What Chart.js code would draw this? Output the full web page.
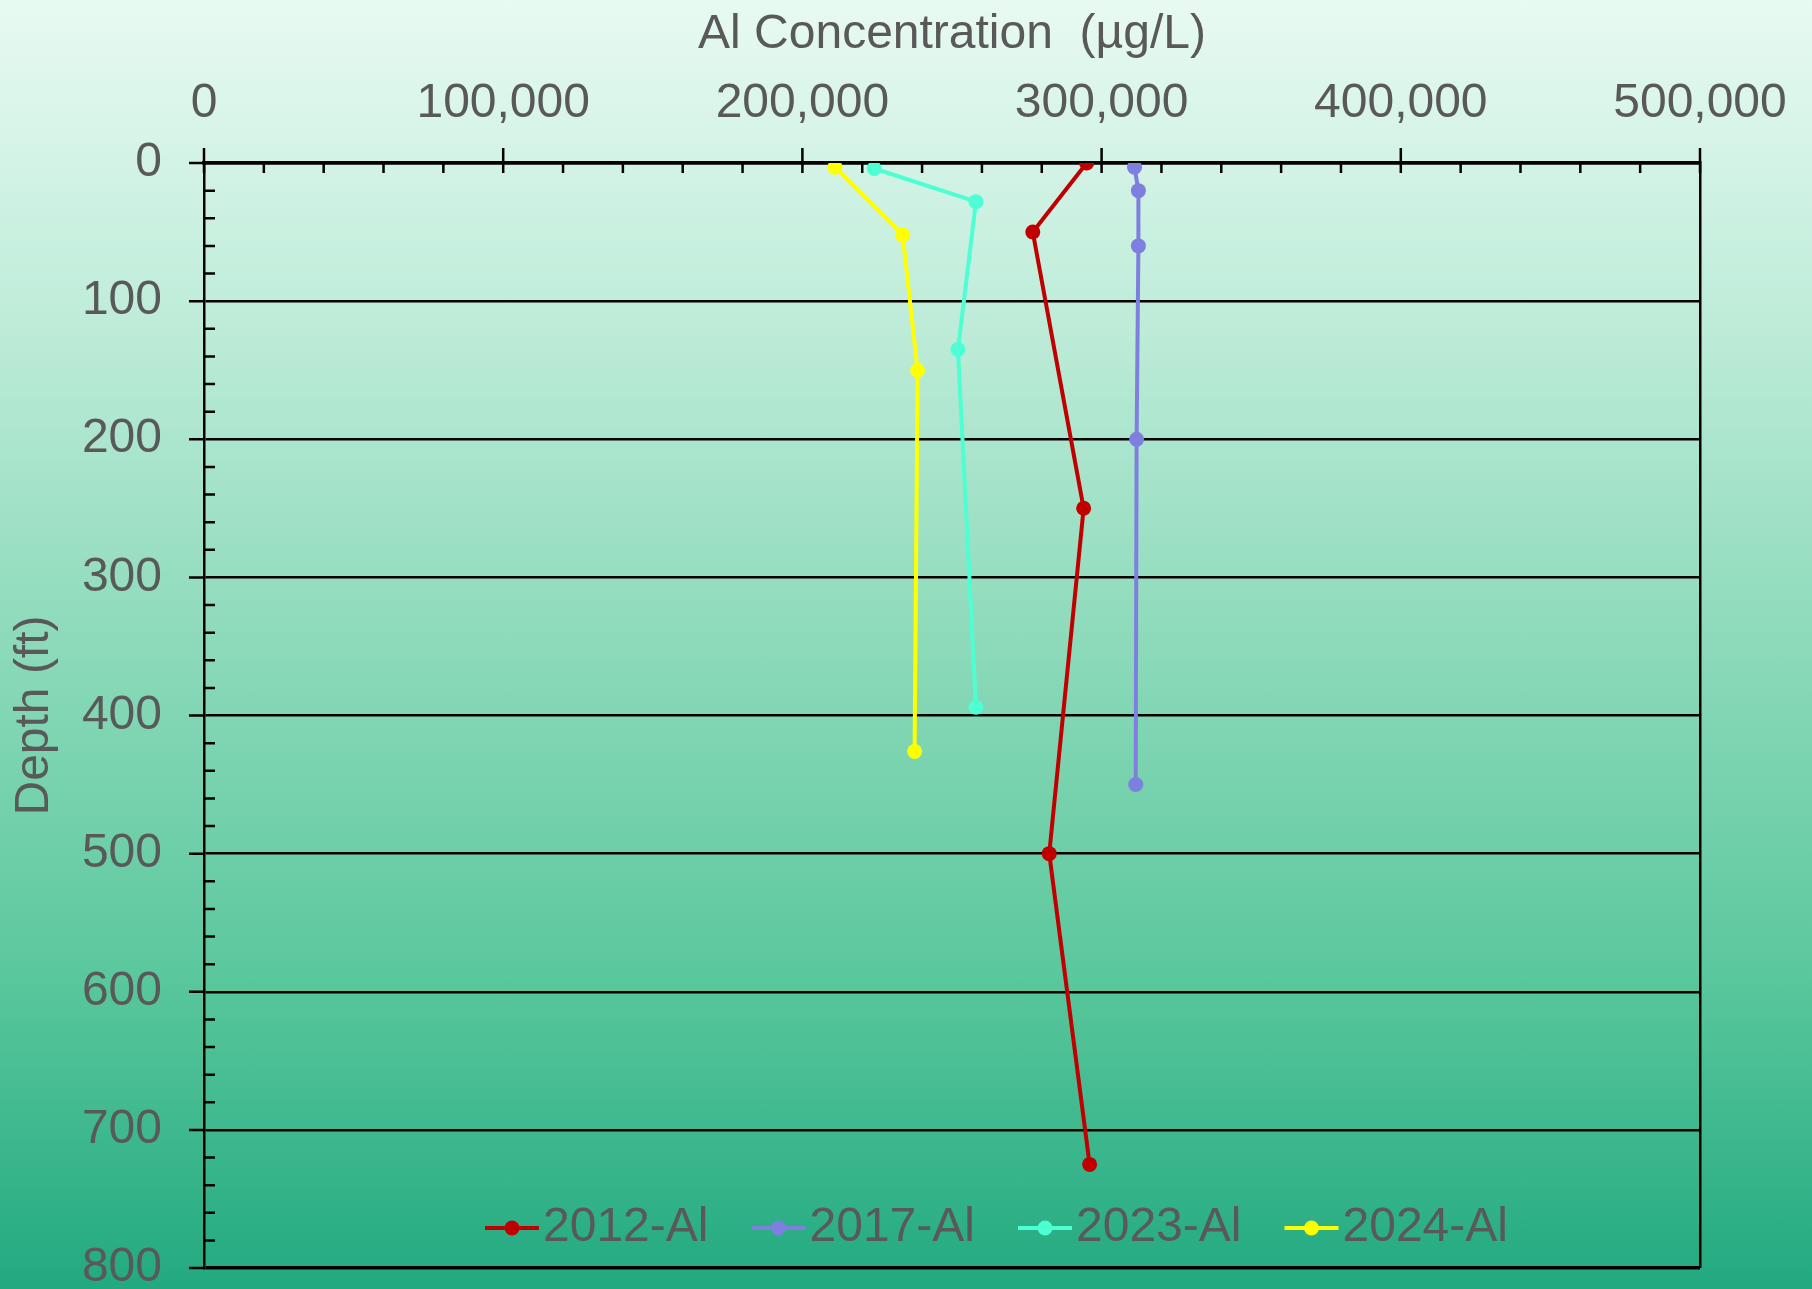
<!DOCTYPE html>
<html>
<head>
<meta charset="utf-8">
<title>Al Concentration vs Depth</title>
<script src="https://cdn.jsdelivr.net/npm/chart.js@4.4.1/dist/chart.umd.min.js"></script>
<style>
  html, body { margin: 0; padding: 0; }
  body {
    width: 1812px; height: 1289px; overflow: hidden;
    background: linear-gradient(to bottom, #e8faf2 0%, #beecd9 25%, #8cdaba 50%, #5cc89d 75%, #22a980 100%);
  }
  #wrap { width: 1812px; height: 1289px; position: relative; }
</style>
</head>
<body>
<div id="wrap"><canvas id="depthChart"></canvas></div>
<script>
// series labels
const seriesNames = ['2012-Al', '2017-Al', '2023-Al', '2024-Al'];
const seriesColors = ['#c00000', '#7f7fdf', '#4dffd2', '#ffff00'];

// depth (ft) and Al concentration (µg/L) per sampling year
const depth2012 = [0, 50, 250, 500, 725];
const al2012 = [295000, 277000, 294000, 282500, 296000];

const depth2017 = [3, 20, 60, 200, 450];
const al2017 = [311000, 312300, 312300, 311700, 311400];

const depth2023 = [4, 28, 135, 394];
const al2023 = [224000, 258000, 252000, 258000];

const depth2024 = [3, 52, 150, 426];
const al2024 = [210900, 233500, 238500, 237500];

// axis ranges
const xMax = 500000, xMajor = 100000, xMinor = 20000;
const yMax = 800, yMajor = 100, yMinor = 20;

const TEXT = '#595959';
const FONT = "'Liberation Sans', Arial, sans-serif";

function toPoints(xs, ys) {
  return xs.map((v, i) => ({ x: v, y: ys[i] }));
}

const allSeries = [
  toPoints(al2012, depth2012),
  toPoints(al2017, depth2017),
  toPoints(al2023, depth2023),
  toPoints(al2024, depth2024)
];

// minor / crossing tick marks, drawn from the scales
const tickMarks = {
  id: 'tickMarks',
  afterDraw(chart) {
    const { ctx, scales: { x, y } } = chart;
    const axisY = y.getPixelForValue(0);
    const axisX = x.getPixelForValue(0);
    ctx.save();
    ctx.strokeStyle = '#000';
    ctx.lineWidth = 2.5;
    ctx.beginPath();
    for (let v = 0; v <= xMax; v += xMinor) {
      const px = x.getPixelForValue(v);
      const major = v % xMajor === 0;
      ctx.moveTo(px, axisY + (major ? -15 : 0));
      ctx.lineTo(px, axisY + 10);
    }
    for (let d = 0; d <= yMax; d += yMinor) {
      const py = y.getPixelForValue(d);
      if (d % yMajor === 0) {
        ctx.moveTo(axisX - 15, py);
        ctx.lineTo(axisX, py);
      } else {
        ctx.moveTo(axisX, py);
        ctx.lineTo(axisX + 11, py);
      }
    }
    ctx.stroke();
    ctx.restore();
  }
};

// legend placed inside the plot, near the bottom
const innerLegend = {
  id: 'innerLegend',
  afterDraw(chart) {
    const ctx = chart.ctx;
    const startX = 485, step = 266.5, ly = 1228;
    ctx.save();
    ctx.font = '48px ' + FONT;
    ctx.textBaseline = 'middle';
    ctx.textAlign = 'left';
    chart.data.datasets.forEach((ds, i) => {
      const x0 = startX + i * step;
      ctx.strokeStyle = ds.borderColor;
      ctx.lineWidth = 4;
      ctx.beginPath();
      ctx.moveTo(x0, ly);
      ctx.lineTo(x0 + 54, ly);
      ctx.stroke();
      ctx.fillStyle = ds.borderColor;
      ctx.beginPath();
      ctx.arc(x0 + 27, ly, 7.5, 0, Math.PI * 2);
      ctx.fill();
      ctx.fillStyle = TEXT;
      ctx.fillText(ds.label, x0 + 58, ly);
    });
    ctx.restore();
  }
};

const chart = new Chart(document.getElementById('depthChart'), {
  type: 'scatter',
  data: {
    datasets: allSeries.map((pts, i) => ({
      label: seriesNames[i],
      data: pts,
      showLine: true,
      borderColor: seriesColors[i],
      backgroundColor: seriesColors[i],
      borderWidth: 4,
      pointRadius: 7.5,
      pointHoverRadius: 7.5,
      pointBorderWidth: 0,
      tension: 0
    }))
  },
  options: {
    responsive: true,
    maintainAspectRatio: false,
    animation: false,
    layout: { padding: { top: 0, left: 0, right: 112, bottom: 21 } },
    plugins: {
      legend: { display: false },
      tooltip: { enabled: false }
    },
    scales: {
      x: {
        type: 'linear',
        position: 'top',
        min: 0,
        max: xMax,
        afterFit: s => { s.height = 163; s.paddingLeft = 0; s.paddingRight = 0; },
        ticks: {
          stepSize: xMajor,
          padding: 30,
          color: TEXT,
          font: { family: FONT, size: 48 },
          maxRotation: 0,
          callback: v => v.toLocaleString('en-US')
        },
        grid: {
          drawTicks: false,
          lineWidth: 2.5,
          color: ctx => (ctx.tick && ctx.tick.value === xMax ? '#000' : 'rgba(0,0,0,0)')
        },
        border: { display: true, color: '#000', width: 3.5 },
        title: {
          display: true,
          text: 'Al Concentration  (µg/L)',
          color: TEXT,
          font: { family: FONT, size: 48 },
          padding: { top: 6, bottom: 0 }
        }
      },
      y: {
        type: 'linear',
        reverse: true,
        min: 0,
        max: yMax,
        afterFit: s => { s.width = 204; s.paddingTop = 0; s.paddingBottom = 0; },
        ticks: {
          stepSize: yMajor,
          padding: 42,
          color: TEXT,
          font: { family: FONT, size: 48 }
        },
        grid: {
          drawTicks: false,
          color: '#000',
          lineWidth: ctx => (ctx.tick && ctx.tick.value === yMax ? 3.5 : 2.5)
        },
        border: { display: true, color: '#000', width: 2.5 },
        title: {
          display: true,
          text: 'Depth (ft)',
          color: TEXT,
          font: { family: FONT, size: 48 },
          padding: { top: 6, bottom: 0 }
        }
      }
    }
  },
  plugins: [tickMarks, innerLegend]
});
</script>
</body>
</html>
